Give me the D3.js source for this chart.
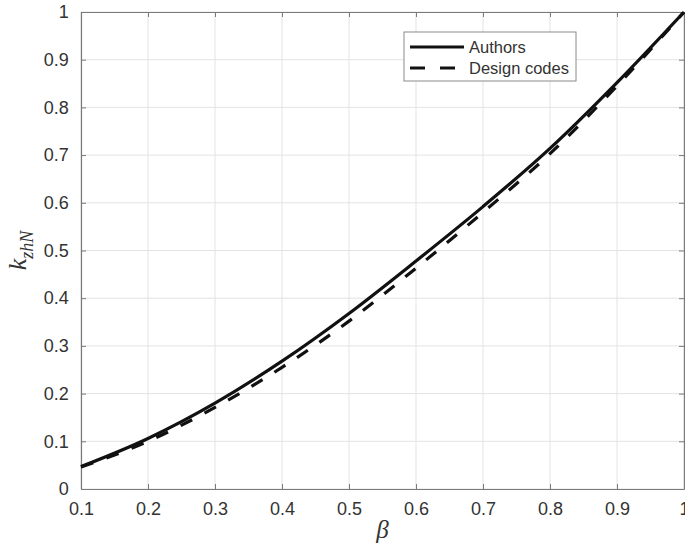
<!DOCTYPE html>
<html>
<head>
    <meta charset="utf-8">
    <title>k_zhN vs beta</title>
    <script src="https://cdn.jsdelivr.net/npm/d3@7"></script>
    <style>
        body { margin: 0; background: #fff; }
        text { font-family: "Liberation Sans", Arial, sans-serif; }
    </style>
</head>
<body>
    <svg width="685" height="552" id="mainsvg"></svg>
    <script>
        // data
        const beta = [0.1, 0.2, 0.3, 0.4, 0.5, 0.6, 0.7, 0.8, 0.9, 1.0];
        const authors = [0.047, 0.106, 0.180, 0.268, 0.368, 0.478, 0.592, 0.714, 0.852, 1.0];
        const designCodes = [0.046, 0.100, 0.171, 0.255, 0.352, 0.463, 0.580, 0.703, 0.845, 1.0];
        const xTicks = [0.1, 0.2, 0.3, 0.4, 0.5, 0.6, 0.7, 0.8, 0.9, 1];
        const yTicks = [0, 0.1, 0.2, 0.3, 0.4, 0.5, 0.6, 0.7, 0.8, 0.9, 1];

        const svg = d3.select('svg');
        const margin = { left: 81, top: 12, right: 685 - 684, bottom: 552 - 489 };
        const width = +svg.attr('width');
        const height = +svg.attr('height');

        const x = d3.scaleLinear().domain([0.1, 1]).range([margin.left, width - margin.right]);
        const y = d3.scaleLinear().domain([0, 1]).range([height - margin.bottom, margin.top]);

        const axisColor = '#7a7a7a';
        const gridColor = '#e3e3e3';
        const textColor = '#333';

        // grid
        const grid = svg.append('g');
        grid.selectAll('.gx').data(xTicks).join('line')
            .attr('x1', d => x(d)).attr('x2', d => x(d))
            .attr('y1', y(0)).attr('y2', y(1))
            .attr('stroke', gridColor).attr('stroke-width', 1);
        grid.selectAll('.gy').data(yTicks).join('line')
            .attr('class', 'gy')
            .attr('x1', x(0.1)).attr('x2', x(1))
            .attr('y1', d => y(d)).attr('y2', d => y(d))
            .attr('stroke', gridColor).attr('stroke-width', 1);

        // axes
        const fmt = d => d3.format('')(d);
        const xAxis = svg.append('g')
            .attr('transform', `translate(0,${y(0)})`)
            .call(d3.axisBottom(x).tickValues(xTicks).tickFormat(fmt).tickSizeInner(-5).tickSizeOuter(0).tickPadding(13));
        const yAxis = svg.append('g')
            .attr('transform', `translate(${x(0.1)},0)`)
            .call(d3.axisLeft(y).tickValues(yTicks).tickFormat(fmt).tickSizeInner(-5).tickSizeOuter(0).tickPadding(14));
        const xTop = svg.append('g')
            .attr('transform', `translate(0,${y(1)})`)
            .call(d3.axisTop(x).tickValues(xTicks).tickFormat('').tickSizeInner(-5).tickSizeOuter(0));
        const yRight = svg.append('g')
            .attr('transform', `translate(${x(1)},0)`)
            .call(d3.axisRight(y).tickValues(yTicks).tickFormat('').tickSizeInner(-5).tickSizeOuter(0));

        [xAxis, yAxis, xTop, yRight].forEach(g => {
            g.select('.domain').attr('stroke', axisColor).attr('stroke-width', 1.2);
            g.selectAll('.tick line').attr('stroke', axisColor);
            g.selectAll('.tick text')
                .attr('fill', textColor)
                .style('font-size', '18px')
                .style('font-family', '"Liberation Sans", Arial, sans-serif');
        });
        yAxis.selectAll('.tick text').attr('dx', '0.1em');

        // curves
        const line = d3.line()
            .x(d => x(d[0]))
            .y(d => y(d[1]))
            .curve(d3.curveMonotoneX);

        svg.append('path')
            .datum(d3.zip(beta, designCodes))
            .attr('d', line)
            .attr('fill', 'none')
            .attr('stroke', '#111')
            .attr('stroke-width', 3.2)
            .attr('stroke-dasharray', '13,14');

        svg.append('path')
            .datum(d3.zip(beta, authors))
            .attr('d', line)
            .attr('fill', 'none')
            .attr('stroke', '#111')
            .attr('stroke-width', 3.2);

        // legend
        const legend = svg.append('g').attr('transform', 'translate(404,32)');
        legend.append('rect')
            .attr('width', 172).attr('height', 49)
            .attr('fill', '#fff')
            .attr('stroke', '#8a8a8a').attr('stroke-width', 1);
        const items = [
            { name: 'Authors', dash: null },
            { name: 'Design codes', dash: '15,15' }
        ];
        items.forEach((it, i) => {
            const yy = 15 + i * 21;
            legend.append('line')
                .attr('x1', 6).attr('x2', 60)
                .attr('y1', yy).attr('y2', yy)
                .attr('stroke', '#111').attr('stroke-width', 3.2)
                .attr('stroke-dasharray', it.dash);
            legend.append('text')
                .attr('x', 65).attr('y', yy + 6)
                .attr('fill', textColor)
                .style('font-size', '16.5px')
                .text(it.name);
        });

        // axis labels
        svg.append('text')
            .attr('x', (x(0.1) + x(1)) / 2)
            .attr('y', 538)
            .attr('text-anchor', 'middle')
            .attr('fill', '#333')
            .style('font-family', '"Liberation Serif", "Times New Roman", serif')
            .style('font-style', 'italic')
            .style('font-size', '25px')
            .text('β');

        const yl = svg.append('text')
            .attr('transform', `translate(26,${(y(0) + y(1)) / 2}) rotate(-90)`)
            .attr('text-anchor', 'middle')
            .attr('fill', '#333')
            .style('font-family', '"Liberation Serif", "Times New Roman", serif')
            .style('font-style', 'italic');
        yl.append('tspan').style('font-size', '26px').text('k');
        yl.append('tspan').style('font-size', '18px').attr('dy', 7).text('zhN');
    </script>
</body>
</html>
